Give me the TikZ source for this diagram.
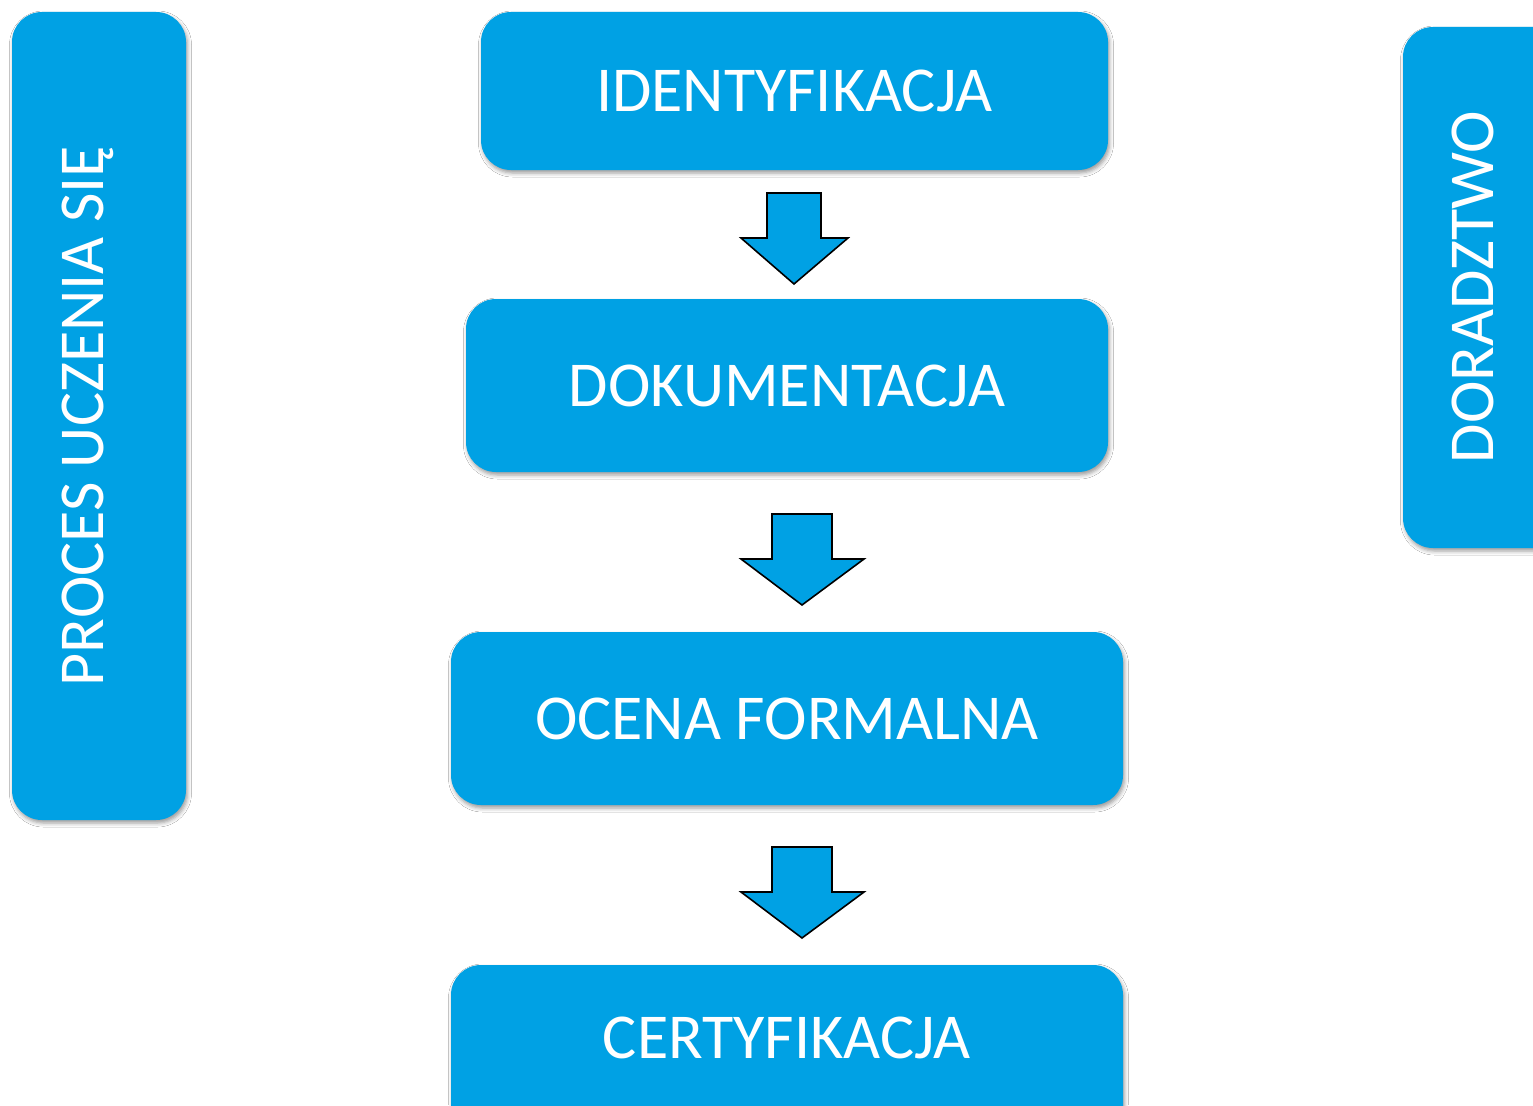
\documentclass[tikz,border=0pt]{standalone}
\usepackage{fontspec}
\setmainfont{Carlito}
\usetikzlibrary{shadows.blur}
\definecolor{boxblue}{RGB}{0,161,228}
\begin{document}
\begin{tikzpicture}[x=1pt,y=-1pt,
  box/.style={draw=none, fill=boxblue, rounded corners=30pt, inner sep=0pt,
    text=white, font=\fontsize{64}{68}\selectfont,
    blur shadow={shadow xshift=1.5pt, shadow yshift=-3pt, shadow blur radius=4pt, shadow opacity=40}},
  label/.style={text=white, font=\fontsize{64}{68}\selectfont, inner sep=0pt},
  blockarrow/.style={draw=black, line width=1.6pt, fill=boxblue, line join=miter}]
\useasboundingbox (0,0) rectangle (1533,1105);
\clip (0,0) rectangle (1533,1105);
\fill[white] (0,0) rectangle (1533,1105);
% side boxes
\node[box, minimum width=174pt, minimum height=808pt] (proces) at (99,416) {};
\node[label, rotate=90] (procest) at (88,416) {PROCES UCZENIA SIĘ};
\node[box, minimum width=180pt, minimum height=521pt] (dor) at (1493,287.5) {};
\node[label, rotate=90] (dort) at (1473,287) {DORADZTWO};
% main column
\node[box, minimum width=627pt, minimum height=158pt] (ident) at (794.5,91) {IDENTYFIKACJA};
\node[box, minimum width=642pt, minimum height=173pt] (dok) at (787,385.5) {DOKUMENTACJA};
\node[box, minimum width=672pt, minimum height=173pt] (ocena) at (787,718.5) {OCENA FORMALNA};
\node[box, minimum width=672pt, minimum height=173pt] (cert) at (787,1051.5) {};
\node[label] (certt) at (787,1038) {CERTYFIKACJA};
% block arrows
\coordinate (a1) at (794,193);
\draw[blockarrow] (a1) ++(-27,0) -- ++(54,0) -- ++(0,45) -- ++(27,0) -- (794,284) -- (741,238) -- ++(26,0) -- cycle;
\coordinate (a2) at (802,514);
\draw[blockarrow] (a2) ++(-30,0) -- ++(60,0) -- ++(0,45) -- ++(32,0) -- (802,605) -- (741,559) -- ++(31,0) -- cycle;
\coordinate (a3) at (802,847);
\draw[blockarrow] (a3) ++(-30,0) -- ++(60,0) -- ++(0,45) -- ++(32,0) -- (802,938) -- (741,892) -- ++(31,0) -- cycle;
\end{tikzpicture}
\end{document}
